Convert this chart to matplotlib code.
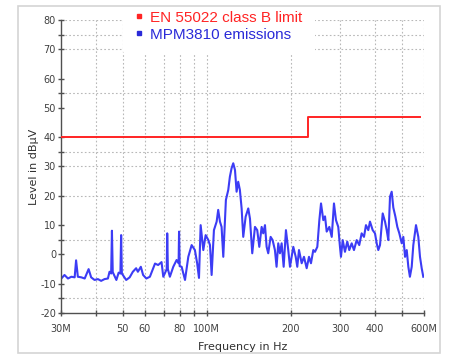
import matplotlib
matplotlib.use("Agg")
import matplotlib.pyplot as plt
from matplotlib.lines import Line2D
from matplotlib.patches import Rectangle
from matplotlib.ticker import FixedLocator, NullFormatter

plt.rcParams["axes.unicode_minus"] = False

# Limit line (EN 55022 class B), MHz / dBuV
limit_freq = [30, 230, 230, 580]
limit_level = [40, 40, 47, 47]

emis_freq = [
    30.1, 30.9, 31.8, 32.7, 33.6, 34.0, 34.5, 35.5, 36.5, 37.7, 38.5, 39.6,
    40.7, 41.8, 43.0, 44.2, 44.8, 45.4, 45.7, 46.0, 46.5, 47.4, 48.3, 49.0,
    49.3, 49.6, 50.0, 51.4, 52.9, 54.3, 55.8, 56.6, 58.0, 59.1, 60.7, 62.5,
    65.2, 66.9, 68.8, 69.8, 71.8, 72.1, 72.5, 73.7, 75.8, 77.9, 79.2, 79.5,
    79.9, 81.2, 83.5, 85.8, 88.2, 90.6, 92.3, 93.7, 95.0, 97.1, 99.0, 101.1,
    102.6, 104.0, 106.0, 108.4, 109.8, 111.4, 112.9, 114.5, 117.0, 119.3, 120.9, 122.6,
    124.3, 126.1, 127.8, 129.5, 131.3, 133.2, 135.0, 137.7, 140.7, 142.7, 145.4, 148.7,
    151.5, 154.1, 157.1, 159.2, 161.5, 163.7, 165.9, 169.2, 172.0, 175.3, 177.7, 180.2,
    182.7, 185.3, 188.4, 192.0, 195.7, 198.5, 204.0, 208.1, 210.8, 213.8, 218.6, 222.8,
    227.8, 232.2, 236.0, 240.6, 244.0, 248.7, 252.9, 256.4, 261.3, 265.0, 268.7, 274.6,
    280.1, 285.3, 290.1, 295.6, 299.8, 302.3, 306.6, 312.4, 318.4, 323.7, 330.2, 336.5,
    344.1, 351.5, 358.5, 365.5, 371.5, 378.7, 384.0, 392.7, 400.2, 405.9, 411.3, 417.1,
    426.5, 434.7, 440.8, 446.7, 453.0, 459.3, 465.5, 473.3, 481.2, 489.2, 499.0, 505.6,
    512.8, 520.0, 526.9, 533.8, 541.8, 549.0, 561.3, 572.1, 580.1, 588.3, 596.1,
]
emis_level = [
    -8.2, -7.0, -8.2, -7.6, -7.8, -2.0, -7.6, -7.8, -8.2, -5.0, -7.8, -8.7,
    -8.4, -9.0, -8.4, -8.2, -5.9, -6.5, 8.1, -6.0, -7.0, -8.7, -6.2, -6.5,
    6.6, -6.5, -7.0, -8.7, -7.8, -5.9, -4.7, -5.9, -4.2, -7.0, -8.2, -7.6,
    -3.1, -3.6, -2.6, -7.6, -5.0, 7.2, -5.0, -7.6, -4.2, -1.9, -3.0, 7.8,
    -4.0, -4.2, -8.7, -0.8, 3.2, 1.5, -3.0, -8.0, 10.0, 1.5, 6.6, 5.0,
    3.2, -7.0, 8.3, 11.2, 15.2, 11.2, 9.4, -0.8, 18.6, 22.0, 26.5, 29.4,
    31.1, 28.8, 21.4, 24.8, 22.0, 15.7, 6.0, 12.9, 15.7, 12.2, 0.4, 9.4,
    8.3, 2.6, 9.4, 7.2, 10.0, 2.6, 0.4, 6.0, 4.9, 1.5, -4.2, 3.8,
    0.4, 3.8, -4.2, 8.3, 1.5, -4.2, 2.6, -0.8, -4.2, 1.5, -3.0, -0.8,
    -4.7, -0.8, -3.0, 1.5, 0.9, 2.6, 11.7, 17.4, 11.7, 13.0, 7.8, 9.4,
    6.0, 17.4, 11.7, 9.4, 2.6, -0.8, 4.9, 0.9, 4.4, 1.5, 3.8, 1.5,
    4.9, 3.2, 7.2, 6.0, 10.0, 8.3, 11.2, 8.3, 7.2, 3.8, 1.5, 3.2,
    14.0, 11.2, 8.3, 4.9, 19.7, 21.4, 16.0, 13.0, 9.4, 7.2, 3.8, 6.0,
    -0.8, 1.5, -4.2, -7.6, -4.2, 3.2, 10.0, 6.0, -0.8, -4.7, -7.6,
]

# Axis ticks and the dotted grid as drawn in the original
x_major = [30, 50, 60, 80, 100, 200, 300, 400, 600]
x_major_labels = ["30M", "50", "60", "80", "100M", "200", "300", "400", "600M"]
x_minor = [40, 70, 90, 500]
x_grid = [40, 50, 60, 70, 80, 90, 100, 200, 300, 400, 500, 600]
y_major = [-20, -10, 0, 10, 20, 30, 40, 50, 60, 70, 80]
y_minor = [-15, 5, 35, 55, 75]
y_grid = [-15, 5, 20, 30, 35, 55, 70, 75, 80]

fig = plt.figure(figsize=(4.65, 3.55), dpi=100)
ax = fig.add_axes([0.131, 0.118, 0.781, 0.826])

# light panel border around everything
fig.patches.append(Rectangle((18 / 465, 2 / 355), 422 / 465, 347 / 355,
                             transform=fig.transFigure, fill=False,
                             edgecolor="#d4d4d4", linewidth=1.2))

for f in x_grid:
    ax.axvline(f, color="#b8b8b8", linestyle=(0, (1.5, 2)), linewidth=0.8, zorder=0)
for lv in y_grid:
    ax.axhline(lv, color="#b8b8b8", linestyle=(0, (1.5, 2)), linewidth=0.8, zorder=0)

ax.plot(emis_freq, emis_level, color="#3c3cf5", linewidth=1.5, zorder=2)
ax.plot(limit_freq, limit_level, color="#ff2424", linewidth=1.4, zorder=3)

ax.set_xscale("log")
ax.set_xlim(30, 600)
ax.set_ylim(-20, 80)

ax.xaxis.set_major_locator(FixedLocator(x_major))
ax.set_xticklabels(x_major_labels)
ax.xaxis.set_minor_locator(FixedLocator(x_minor))
ax.xaxis.set_minor_formatter(NullFormatter())
ax.set_yticks(y_major)
ax.yaxis.set_minor_locator(FixedLocator(y_minor))

for s in ["top", "right"]:
    ax.spines[s].set_visible(False)
for s in ["left", "bottom"]:
    ax.spines[s].set_color("#505050")
    ax.spines[s].set_linewidth(1.0)

ax.tick_params(which="both", direction="inout", length=5, width=1.0,
               color="#505050", labelsize=7, labelcolor="#404040")
ax.tick_params(axis="y", pad=1)
ax.tick_params(axis="x", pad=5)

ax.set_xlabel("Frequency in Hz", fontsize=8, color="#303030", labelpad=6)
ax.set_ylabel("Level in dBµV", fontsize=8, color="#303030", labelpad=1)

handles = [
    Line2D([], [], linestyle="none", marker="s", markersize=3,
           color="#ff2424", label="EN 55022 class B limit"),
    Line2D([], [], linestyle="none", marker="s", markersize=3,
           color="#2a2ad8", label="MPM3810 emissions"),
]
# white legend box hides the grid behind it, as in the original
leg = ax.legend(handles=handles, loc="upper left", bbox_to_anchor=(0.17, 1.073),
                frameon=True, framealpha=1, facecolor="white", edgecolor="none",
                prop={"family": "Liberation Sans", "size": 11},
                handlelength=0.6, handletextpad=0.4, labelspacing=0.2,
                borderpad=0.8, borderaxespad=0)
for txt, h in zip(leg.get_texts(), handles):
    txt.set_color(h.get_color())
leg.set_zorder(5)

fig.savefig("out.png", dpi=100)
